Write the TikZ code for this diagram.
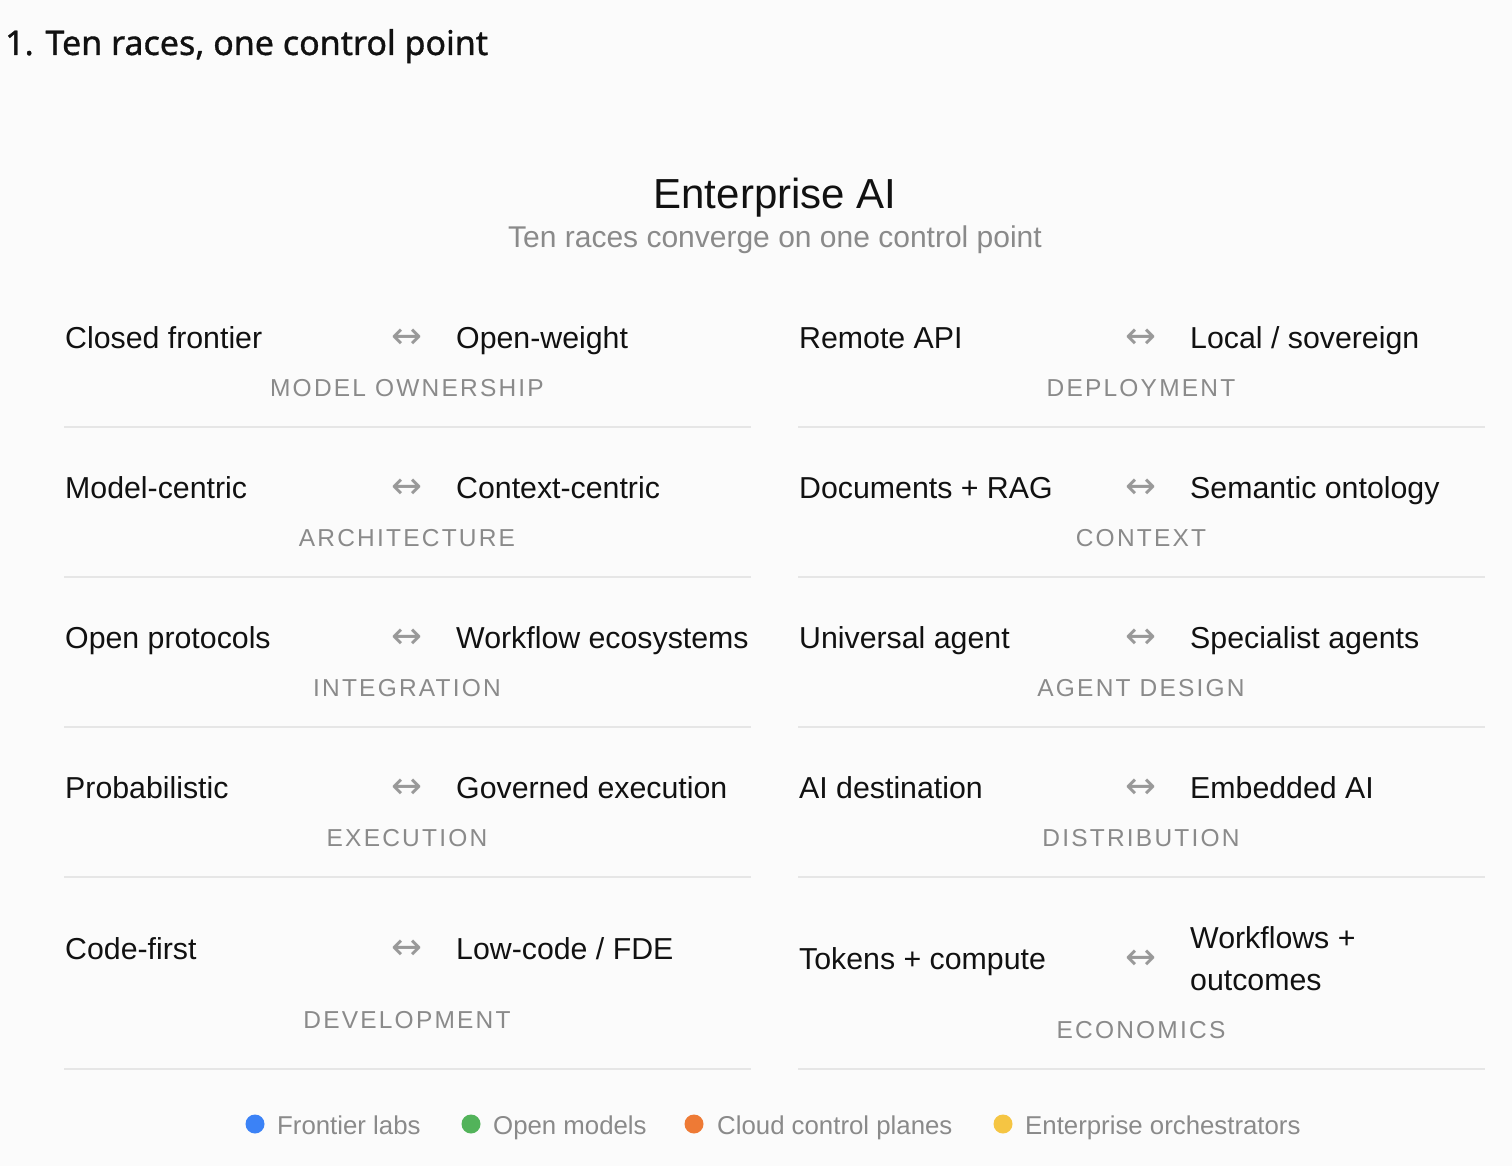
\documentclass[tikz,border=0pt]{standalone}
\usepackage{fontspec}
\setmainfont{Liberation Sans}
\newfontfamily\headfont[FakeBold=1]{Noto Sans}
\newfontfamily\catfont[LetterSpace=9]{Liberation Sans}
\newfontfamily\arrfont{DejaVu Sans}
\definecolor{pagebg}{HTML}{FBFBFB}
\definecolor{ink}{HTML}{111111}
\definecolor{softgray}{HTML}{8A8A8A}
\definecolor{arrowgray}{HTML}{999999}
\definecolor{rulegray}{HTML}{E6E6E6}
\definecolor{labsblue}{HTML}{3B82F6}
\definecolor{opengreen}{HTML}{52B35A}
\definecolor{cloudorange}{HTML}{EE7A35}
\definecolor{orchyellow}{HTML}{F5C543}
\tikzset{
  side/.style={anchor=base west,inner sep=0pt,text=ink,font=\fontsize{30.3}{42}\selectfont},
  swap/.style={anchor=base,inner sep=0pt,text=arrowgray,font=\arrfont\fontsize{37}{40}\selectfont},
  race/.style={anchor=base,inner sep=0pt,text=softgray,font=\catfont\fontsize{24.5}{28}\selectfont},
  divider/.style={draw=rulegray,line width=1.5pt},
  dot/.style={circle,fill=#1,minimum size=19pt,inner sep=0pt},
  keytext/.style={anchor=base west,inner sep=0pt,text=softgray,font=\fontsize{25.8}{30}\selectfont}
}
% one race: id, left x, text baseline, label baseline, rule y, left, right, label
\newcommand{\racerow}[8]{%
  \node[side] (#1l) at (#2,#3) {#6};
  \node[swap] (#1a) at (#2+342,#3) {↔};
  \node[side] (#1r) at (#2+391,#3) {#7};
  \node[race] (#1c) at (#2+342,#4) {#8};
  \draw[divider] (#2-1,#5) -- (#2+686,#5);
}
\begin{document}
\begin{tikzpicture}[x=1pt,y=-1pt]
  \fill[pagebg] (0,0) rectangle (1512,1166);
  \useasboundingbox (0,0) rectangle (1512,1166);
  % headings
  \node[anchor=base west,inner sep=0pt,text=ink,font=\headfont\fontsize{34}{40}\selectfont] (heading) at (5,55) {1. Ten races, one control point};
  \node[anchor=base,inner sep=0pt,text=ink,font=\fontsize{42}{46}\selectfont] (title) at (775,209) {Enterprise AI};
  \node[anchor=base,inner sep=0pt,text=softgray,font=\fontsize{30}{34}\selectfont] (subtitle) at (775,248) {Ten races converge on one control point};
  % left column
  \racerow{own}{65}{348}{396}{427}{Closed frontier}{Open-weight}{MODEL OWNERSHIP}
  \racerow{arch}{65}{498}{546}{577}{Model-centric}{Context-centric}{ARCHITECTURE}
  \racerow{integ}{65}{648}{696}{727}{Open protocols}{Workflow ecosystems}{INTEGRATION}
  \racerow{exec}{65}{798}{846}{877}{Probabilistic}{Governed execution}{EXECUTION}
  \racerow{dev}{65}{959}{1028}{1069}{Code-first}{Low-code / FDE}{DEVELOPMENT}
  % right column
  \racerow{depl}{799}{348}{396}{427}{Remote API}{Local / sovereign}{DEPLOYMENT}
  \racerow{ctx}{799}{498}{546}{577}{Documents + RAG}{Semantic ontology}{CONTEXT}
  \racerow{agent}{799}{648}{696}{727}{Universal agent}{Specialist agents}{AGENT DESIGN}
  \racerow{dist}{799}{798}{846}{877}{AI destination}{Embedded AI}{DISTRIBUTION}
  \node[side] (econl) at (799,969) {Tokens + compute};
  \node[swap] (econa) at (1141,969) {↔};
  \node[side,anchor=west,align=left] (econr) at (1190,959) {Workflows +\\outcomes};
  \node[race] (econc) at (1141,1038) {ECONOMICS};
  \draw[divider] (798,1069) -- (1485,1069);
  % legend
  \node[dot=labsblue] (k1) at (255,1124) {};
  \node[keytext] (k1t) at (277,1134) {Frontier labs};
  \node[dot=opengreen] (k2) at (471,1124) {};
  \node[keytext] (k2t) at (493,1134) {Open models};
  \node[dot=cloudorange] (k3) at (694,1124) {};
  \node[keytext] (k3t) at (717,1134) {Cloud control planes};
  \node[dot=orchyellow] (k4) at (1003,1124) {};
  \node[keytext] (k4t) at (1025,1134) {Enterprise orchestrators};
\end{tikzpicture}
\end{document}
